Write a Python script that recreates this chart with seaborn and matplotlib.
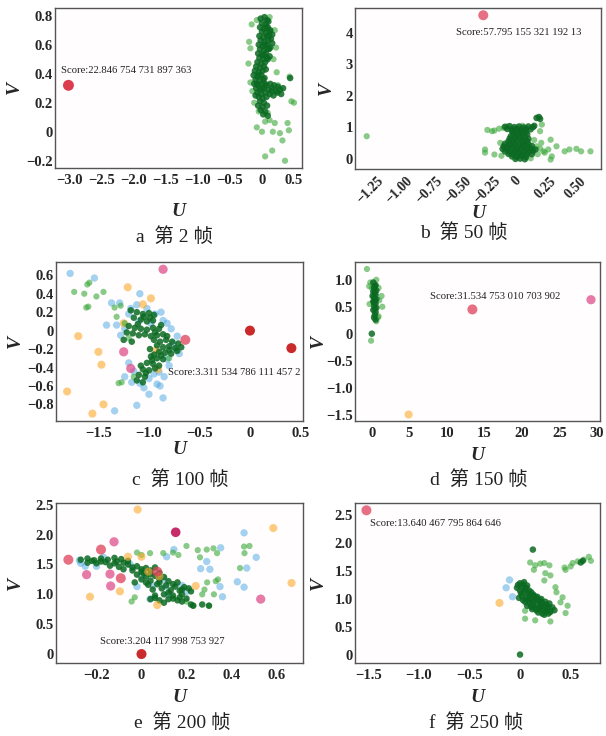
import matplotlib
matplotlib.use("Agg")
import matplotlib.pyplot as plt
import seaborn as sns

# ---------------- data ----------------
# panel a (frame 2)
A_DARK = [(-0.02,0.78),(0.04,0.79),(0.08,0.77),(0.0,0.75),(0.06,0.74),(0.1,0.76),
          (-0.03,0.72),(0.03,0.71),(0.09,0.72),(0.13,0.70),(0.0,0.69),(0.06,0.68),(0.12,0.69),(0.16,0.67),
          (-0.04,0.66),(0.02,0.65),(0.08,0.66),(0.14,0.64),(-0.02,0.63),(0.04,0.62),(0.1,0.63),(0.16,0.61),
          (-0.05,0.60),(0.01,0.59),(0.07,0.60),(0.13,0.58),(-0.03,0.57),(0.03,0.56),(0.09,0.57),
          (-0.06,0.54),(0.0,0.53),(0.06,0.54),(0.12,0.52),(-0.04,0.51),(0.02,0.50),(0.08,0.51),
          (-0.07,0.48),(-0.01,0.47),(0.05,0.48),(-0.09,0.45),(-0.03,0.44),(0.03,0.45),
          (-0.11,0.42),(-0.05,0.41),(0.01,0.42),(-0.13,0.39),(-0.07,0.38),(-0.01,0.39),(0.04,0.37),
          (-0.1,0.36),(-0.04,0.35),(0.02,0.36),(-0.12,0.33),(-0.06,0.32),(0.0,0.33),(0.07,0.32),(0.13,0.33),
          (0.19,0.32),(0.25,0.31),(-0.09,0.30),(-0.03,0.29),(0.03,0.30),(0.1,0.29),(0.16,0.30),(0.22,0.28),
          (0.28,0.29),(0.33,0.30),(-0.07,0.27),(-0.01,0.26),(0.05,0.27),(0.12,0.26),(0.18,0.25),(0.24,0.27),
          (0.3,0.26),(-0.05,0.24),(0.01,0.23),(0.07,0.24),(-0.03,0.21),(0.03,0.20),(-0.06,0.18),(0.01,0.17),
          (0.08,0.18),(-0.02,0.15),(0.05,0.14),(0.02,0.12),(0.09,0.11),(0.44,0.37),
          (0.07,0.72),(0.11,0.66),(0.05,0.60),(0.11,0.57),(0.03,0.53),(0.09,0.50),(-0.05,0.39),(0.06,0.43),
          (-0.08,0.33),(0.05,0.33),(-0.1,0.25),(0.0,0.30),(0.15,0.28)]
A_LIGHT = [(-0.16,0.74),(-0.18,0.575),(-0.21,0.47),(-0.18,0.34),(0.23,0.41),(0.25,0.32),(0.43,0.38),
           (0.46,0.21),(0.40,0.06),(0.42,0.01),(0.28,-0.01),(0.32,-0.06),(0.17,0.0),(0.0,0.0),
           (-0.08,0.03),(0.05,0.07),(0.12,0.08),(0.2,0.06),(0.05,-0.17),(0.16,-0.13),(0.36,-0.2),
           (-0.05,0.14),(0.09,0.13),(0.2,0.70),(0.22,0.58),(-0.15,0.28),(0.12,0.79),(-0.08,0.77),
           (0.5,0.2),(-0.2,0.62),(0.18,0.5),(-0.12,0.2)]
A_RED = [(-3.02,0.32)]

# panel b (frame 50)
B_DARK = [(-0.1,1.02),(-0.06,1.04),(-0.02,1.01),(0.02,1.03),(0.06,1.0),(0.1,1.03),(0.14,1.01),
          (-0.08,0.95),(-0.04,0.94),(0.0,0.96),(0.04,0.93),(0.08,0.95),(0.12,0.94),
          (-0.04,0.88),(0.0,0.87),(0.04,0.89),(0.08,0.86),(-0.03,0.80),(0.01,0.79),(0.05,0.81),(0.09,0.78),
          (-0.05,0.72),(-0.01,0.71),(0.03,0.73),(0.07,0.70),(-0.06,0.64),(-0.02,0.63),(0.02,0.65),(0.06,0.62),(0.1,0.64),
          (-0.07,0.56),(-0.03,0.55),(0.01,0.57),(0.05,0.54),(0.09,0.56),
          (-0.1,0.48),(-0.06,0.47),(-0.02,0.49),(0.02,0.46),(0.06,0.48),(0.1,0.47),
          (-0.11,0.40),(-0.07,0.39),(-0.03,0.41),(0.01,0.38),(0.05,0.40),(0.09,0.39),(0.13,0.41),
          (-0.12,0.32),(-0.08,0.31),(-0.04,0.33),(0.0,0.30),(0.04,0.32),(0.08,0.31),(0.12,0.33),(0.16,0.30),
          (-0.1,0.24),(-0.06,0.23),(-0.02,0.25),(0.02,0.22),(0.06,0.24),(0.1,0.23),(0.14,0.25),
          (-0.07,0.16),(-0.03,0.15),(0.01,0.17),(0.05,0.14),(0.09,0.16),(0.13,0.15),
          (-0.04,0.08),(0.0,0.07),(0.04,0.09),(0.08,0.06),(-0.01,0.0),(0.03,0.01),(0.07,-0.01),
          (0.19,1.33),(0.2,1.27),(0.17,1.30),(0.15,1.05)]
B_LIGHT = [(-1.28,0.72),(-0.21,0.88),(-0.19,0.9),(-0.11,0.98),(-0.08,1.03),(0.215,1.09),(0.2,0.88),
           (0.29,0.61),(0.27,0.3),(0.34,0.4),(0.41,0.24),(0.45,0.3),(0.51,0.32),(0.55,0.24),(0.63,0.24),
           (-0.27,0.3),(-0.27,0.2),(-0.19,0.14),(-0.14,0.51),(0.29,-0.02),(0.3,0.08),(0.23,0.24),
           (0.17,0.4),(0.21,0.51),(-0.25,0.92),(-0.15,0.96),(0.05,1.05),(0.24,0.2),(0.18,0.15),
           (-0.13,0.1),(0.15,0.6),(0.12,0.02),(0.2,0.33)]
B_RED = [(-0.285,4.56)]

# panel c (frame 100)
C_DARK = [(-1.18,0.22),(-1.12,0.20),(-1.06,0.18),(-1.0,0.19),(-0.95,0.17),(-1.15,0.14),(-1.08,0.12),
          (-1.02,0.10),(-0.96,0.11),(-1.2,0.05),(-1.14,0.03),(-1.08,0.02),(-1.02,0.01),(-0.96,0.03),
          (-0.9,0.02),(-1.16,-0.03),(-1.1,-0.05),(-1.04,-0.04),(-0.98,-0.06),(-0.92,-0.05),(-0.86,-0.04),
          (-0.95,-0.1),(-0.89,-0.12),(-0.83,-0.1),(-0.77,-0.12),(-0.71,-0.14),(-0.92,-0.16),(-0.86,-0.18),
          (-0.8,-0.17),(-0.74,-0.19),(-0.68,-0.18),(-0.9,-0.23),(-0.84,-0.24),(-0.78,-0.25),(-0.72,-0.22),
          (-0.98,-0.28),(-0.92,-0.3),(-0.86,-0.31),(-1.02,-0.35),(-0.96,-0.36),(-0.9,-0.38),
          (-1.06,-0.42),(-1.0,-0.43),(-0.94,-0.41),(-1.1,-0.48),(-1.04,-0.5),(-1.12,-0.54),(-1.06,-0.56),
          (-1.22,-0.02),(-1.25,-0.1),(-1.17,-0.12),(-0.88,0.06),(-0.82,-0.06),(-0.99,-0.2),(-0.95,-0.26),
          (-1.05,0.15),(-0.99,0.14),(-1.11,0.07),(-0.94,-0.02),(-0.8,-0.21),(-0.88,-0.27),(-0.97,-0.32),
          (-1.03,-0.46),(-1.08,-0.38)]
C_LIGHT = [(-1.74,0.42),(-1.64,0.40),(-1.61,0.50),(-1.59,0.52),(-1.45,0.42),(-1.52,0.37),(-1.60,0.26),
           (-1.62,0.25),(-1.34,0.25),(-1.28,0.27),(-1.32,0.15),(-1.30,-0.57),(-1.27,-0.56),(-1.24,0.08),
           (-1.2,-0.08),(-1.15,-0.5),(-0.8,-0.3)]
C_BLUE = [(-1.78,0.62),(-1.54,0.57),(-1.37,0.30),(-1.29,0.30),(-1.42,0.06),(-1.34,-0.87),(-1.12,-0.81),
          (-1.0,-0.69),(-0.86,-0.73),(-0.89,-0.60),(-1.09,-0.57),(-1.17,-0.56),(-1.24,-0.50),(-0.86,0.11),
          (-0.94,0.18),(-1.09,0.40),(-1.18,0.24),(-1.24,0.02),(-1.32,0.06),(-0.76,-0.14),(-0.73,-0.21),
          (-0.82,-0.31),(-1.0,-0.52),(-0.95,-0.47),(-0.9,-0.45),(-0.8,-0.38),(-1.15,-0.44),(-0.78,0.02),
          (-0.82,0.08),(-0.72,-0.06),(-0.88,0.2),(-1.02,0.24),(-1.12,0.28),(-1.2,0.18),(-1.28,-0.05),
          (-0.92,-0.58),(-1.05,-0.62),(-0.98,0.08),(-0.7,-0.25),(-0.85,-0.5),(-1.2,-0.35),(-1.1,0.1)]
C_ORANGE = [(-1.21,0.47),(-0.98,0.35),(-1.06,0.285),(-1.70,-0.06),(-1.50,-0.23),(-1.47,-0.37),
            (-1.81,-0.66),(-1.45,-0.80),(-1.56,-0.90),(-1.25,0.08),(-0.91,-0.42),(-0.93,-0.21)]
C_PINK = [(-0.86,0.665),(-1.25,-0.23),(-1.18,-0.41)]
C_SALMON = [(-0.64,-0.10)]
C_RED = [(0.0,0.0),(0.41,-0.19)]

# panel d (frame 150)
D_DARK = [(0.2,0.95),(0.5,0.9),(0.3,0.85),(0.6,0.8),(0.2,0.78),(0.5,0.72),(0.3,0.68),(0.6,0.64),
          (0.2,0.6),(0.5,0.56),(0.3,0.52),(0.6,0.48),(0.2,0.44),(0.5,0.4),(0.4,0.35),(0.3,0.3),
          (0.5,0.26),(0.0,0.0),(0.4,0.62),(0.1,0.7),(0.4,0.88),(0.4,0.76),(0.3,0.58),(0.4,0.46)]
D_LIGHT = [(-0.65,1.2),(-0.35,0.88),(1.3,0.7),(1.4,0.5),(0.8,0.3),(0.6,0.23),(0.6,1.0),(0.0,0.85),
           (-0.1,-0.13),(1.0,0.62),(0.9,0.32),(-0.3,0.55),(0.9,0.85),(-0.2,0.95)]
D_SALMON = [(13.4,0.45)]
D_PINK = [(29.2,0.63)]
D_ORANGE = [(4.9,-1.5)]

# panel e (frame 200)
E_DARK = [(-0.27,1.58),(-0.24,1.60),(-0.21,1.57),(-0.18,1.60),(-0.15,1.58),(-0.12,1.61),(-0.09,1.59),
          (-0.06,1.56),(-0.24,1.53),(-0.2,1.52),(-0.16,1.54),(-0.12,1.52),(-0.14,1.48),(-0.1,1.46),
          (-0.06,1.50),(-0.02,1.47),(0.02,1.44),(-0.08,1.42),(-0.04,1.40),(0.0,1.38),(0.04,1.40),
          (0.08,1.36),(0.06,1.45),(-0.02,1.33),(0.02,1.30),(0.06,1.31),(0.1,1.29),(0.0,1.25),(0.04,1.23),
          (0.08,1.25),(0.12,1.22),(0.16,1.20),(0.03,1.16),(0.07,1.17),(0.11,1.15),(0.15,1.13),(0.19,1.12),
          (0.09,1.10),(0.13,1.07),(0.17,1.06),(0.21,1.10),(0.05,1.08),(0.06,0.98),(0.1,1.0),(0.14,0.98),
          (0.18,1.0),(0.04,0.92),(0.08,0.90),(0.12,0.92),(0.16,0.90),(0.2,0.93),(0.1,0.86),(0.23,0.81),
          (0.3,0.81),(0.27,0.83),(0.22,0.83),(-0.03,1.2),(0.12,1.03),(0.17,0.95),(-0.11,1.55),(0.01,1.35),
          (-0.22,1.56),(-0.18,1.55),(-0.08,1.53),(-0.04,1.45),(0.0,1.42),(0.04,1.34),(0.08,1.20),
          (0.14,1.17),(0.18,1.08),(0.14,0.93),(0.18,0.88),(0.06,0.94),(0.02,1.20),(0.22,1.05)]
E_LIGHT = [(0.038,1.69),(0.097,1.69),(0.164,1.66),(0.2,1.81),(0.25,1.74),(0.29,1.75),(0.32,1.77),
           (0.336,1.69),(0.456,1.80),(0.48,1.81),(0.458,1.69),(0.438,1.44),(0.292,1.20),(0.33,1.22),
           (0.322,1.0),(0.27,1.0),(-0.044,0.88),(0.23,0.81),(0.3,0.81),(-0.02,1.70),(0.0,1.66),
           (0.14,1.7),(0.26,1.62),(-0.03,0.95),(0.2,0.88),(0.28,1.08),(0.34,1.25)]
E_BLUE = [(0.456,2.03),(0.352,1.78),(0.29,1.55),(0.263,1.43),(0.304,1.42),(0.468,1.44),(0.426,1.21),
          (0.456,1.12),(0.36,0.96),(0.144,1.75),(0.112,1.63),(-0.276,1.57),(-0.25,1.47),(-0.2,1.47),
          (-0.02,1.13),(0.038,0.92),(0.105,1.13),(0.349,1.13),(-0.27,1.52),(-0.05,1.50),(0.0,1.30),
          (0.05,1.15),(0.12,1.0),(0.1,1.25),(0.18,1.15),(0.2,1.05),(-0.17,1.62),(0.51,1.62)]
E_ORANGE = [(-0.017,2.42),(0.586,2.11),(0.667,1.19),(-0.229,0.96),(-0.096,1.05),(0.241,1.14),
            (0.07,0.82),(-0.06,1.63),(0.0,1.63),(0.03,1.38),(0.08,1.30)]
E_PINK = [(-0.122,1.88),(-0.244,1.33),(-0.137,1.14),(-0.14,1.34),(0.53,0.92)]
E_SALMON = [(-0.325,1.58),(-0.18,1.75),(-0.092,1.27),(0.07,1.38)]
E_MAGENTA = [(0.152,2.04)]
E_RED = [(0.0,0.0)]

# panel f (frame 250)
F_DARK = [(-0.02,1.25),(0.02,1.22),(0.06,1.20),(0.0,1.15),(0.04,1.12),(0.08,1.10),(0.02,1.05),
          (0.06,1.02),(0.1,1.0),(0.14,0.98),(0.05,0.95),(0.09,0.93),(0.13,0.90),(0.17,0.90),(0.21,0.88),
          (0.11,0.86),(0.15,0.84),(0.19,0.82),(0.23,0.80),(0.27,0.82),(0.18,0.76),(0.22,0.74),(0.26,0.78),
          (0.3,0.77),(0.1,1.08),(0.14,1.05),(0.18,0.97),(0.22,0.93),(0.26,0.90),(0.0,1.28),(0.04,1.30),
          (-0.03,1.20),(0.01,1.10),(0.08,1.0),(0.12,0.95),(0.2,0.86),(0.24,0.85),(0.28,0.86),
          (0.0,0.01),(0.127,1.88),(0.6,1.65),(0.62,1.68),
          (0.03,1.26),(0.07,1.24),(0.11,1.12),(0.16,1.02),(0.2,0.97),(0.25,0.95),(0.29,0.92),(0.32,0.85),
          (0.28,0.74),(0.24,0.72),(0.16,0.80),(0.12,0.82),(0.07,0.88),(-0.01,1.02),(0.03,0.98),(0.34,0.80),
          (0.05,1.17),(0.09,1.15),(0.13,1.08),(0.17,1.04),(0.21,1.0)]
F_LIGHT = [(0.45,1.52),(0.52,1.64),(0.57,1.67),(0.63,1.70),(0.68,1.75),(0.70,1.68),(0.44,1.56),
           (0.137,1.52),(0.24,1.64),(0.29,1.60),(0.25,1.46),(0.30,1.42),(0.24,1.33),(0.35,1.21),
           (0.36,1.12),(0.42,1.03),(0.47,0.88),(0.40,0.94),(0.30,0.79),(0.05,0.79),(0.1,1.65),
           (0.15,1.6),(0.2,1.63),(0.15,0.62),(0.3,0.6),(0.45,0.75),(0.05,0.65),(0.5,1.58)]
F_BLUE = [(-0.104,1.34),(-0.137,1.20),(-0.074,1.04)]
F_ORANGE = [(-0.203,0.93)]
F_SALMON = [(-1.517,2.58)]

SCORES = ["Score:22.846 754 731 897 363", "Score:57.795 155 321 192 13",
          "Score:3.311 534 786 111 457 2", "Score:31.534 753 010 703 902",
          "Score:3.204 117 998 753 927", "Score:13.640 467 795 864 646"]
CAPTIONS = ["a  第 2 帧", "b  第 50 帧", "c  第 100 帧", "d  第 150 帧", "e  第 200 帧", "f  第 250 帧"]

A_XT = [-3.0, -2.5, -2.0, -1.5, -1.0, -0.5, 0, 0.5]
A_XL = ["−3.0", "−2.5", "−2.0", "−1.5", "−1.0", "−0.5", "0", "0.5"]
A_YT = [-0.2, 0, 0.2, 0.4, 0.6, 0.8]
A_YL = ["−0.2", "0", "0.2", "0.4", "0.6", "0.8"]
B_XT = [-1.25, -1.0, -0.75, -0.5, -0.25, 0, 0.25, 0.5]
B_XL = ["−1.25", "−1.00", "−0.75", "−0.50", "−0.25", "0", "0.25", "0.50"]
B_YT = [0, 1, 2, 3, 4]
B_YL = ["0", "1", "2", "3", "4"]
C_XT = [-1.5, -1.0, -0.5, 0, 0.5]
C_XL = ["−1.5", "−1.0", "−0.5", "0", "0.5"]
C_YT = [-0.8, -0.6, -0.4, -0.2, 0, 0.2, 0.4, 0.6]
C_YL = ["−0.8", "−0.6", "−0.4", "−0.2", "0", "0.2", "0.4", "0.6"]
D_XT = [0, 5, 10, 15, 20, 25, 30]
D_XL = ["0", "5", "10", "15", "20", "25", "30"]
D_YT = [-1.5, -1.0, -0.5, 0, 0.5, 1.0]
D_YL = ["−1.5", "−1.0", "−0.5", "0", "0.5", "1.0"]
E_XT = [-0.2, 0, 0.2, 0.4, 0.6]
E_XL = ["−0.2", "0", "0.2", "0.4", "0.6"]
E_YT = [0, 0.5, 1.0, 1.5, 2.0, 2.5]
E_YL = ["0", "0.5", "1.0", "1.5", "2.0", "2.5"]
F_XT = [-1.5, -1.0, -0.5, 0, 0.5]
F_XL = ["−1.5", "−1.0", "−0.5", "0", "0.5"]
F_YT = [0, 0.5, 1.0, 1.5, 2.0, 2.5]
F_YL = ["0", "0.5", "1.0", "1.5", "2.0", "2.5"]

# ---------------- style ----------------
sns.set_theme(style="white")
plt.rcParams['font.family'] = ['Liberation Serif', 'Noto Sans CJK SC', 'DejaVu Sans']
plt.rcParams['axes.edgecolor'] = '#555555'
plt.rcParams['axes.linewidth'] = 1.0

STY = {
    'dark':    dict(color='#0b6a22', alpha=0.85, s=22),
    'light':   dict(color='#3aa83a', alpha=0.6, s=20),
    'blue':    dict(color='#4aa6e2', alpha=0.5, s=28),
    'orange':  dict(color='#fdab2c', alpha=0.6, s=34),
    'pink':    dict(color='#de4f8c', alpha=0.75, s=44),
    'salmon':  dict(color='#e0405a', alpha=0.75, s=52),
    'red':     dict(color='#c81e1e', alpha=0.95, s=52),
    'magenta': dict(color='#c0145a', alpha=0.9, s=48),
    'redA':    dict(color='#d8283c', alpha=0.9, s=62),
}

fig = plt.figure(figsize=(6.06, 7.36), dpi=100)
fig.patch.set_facecolor('white')

W, H = 606.0, 736.0
def axes_px(l, r, t, b):
    return fig.add_axes([l / W, 1 - b / H, (r - l) / W, (b - t) / H])

# label positions in pixels: (U label centre y, V label centre x)
panels = [
    dict(box=(55, 302, 8, 168), groups=[('light', A_LIGHT), ('dark', A_DARK), ('redA', A_RED)],
         xlim=(-3.23, 0.625), ylim=(-0.25, 0.853), xt=A_XT, xl=A_XL, yt=A_YT, yl=A_YL,
         score=(-3.13, 0.42), upx=212, vpx=14, cap=(175, 237), rot=0),
    dict(box=(355, 601, 8, 169), groups=[('light', B_LIGHT), ('dark', B_DARK), ('salmon', B_RED)],
         xlim=(-1.38, 0.72), ylim=(-0.32, 4.79), xt=B_XT, xl=B_XL, yt=B_YT, yl=B_YL,
         score=(-0.52, 4.0), upx=213, vpx=326, cap=(464, 233), rot=45),
    dict(box=(56, 303, 262, 421), groups=[('blue', C_BLUE), ('orange', C_ORANGE), ('light', C_LIGHT),
                                            ('dark', C_DARK), ('pink', C_PINK), ('salmon', C_SALMON),
                                            ('red', C_RED)],
         xlim=(-1.92, 0.525), ylim=(-0.98, 0.744), xt=C_XT, xl=C_XL, yt=C_YT, yl=C_YL,
         score=(-0.81, -0.45), upx=450, vpx=15, cap=(180, 480), rot=0),
    dict(box=(355, 600, 262, 421), groups=[('light', D_LIGHT), ('dark', D_DARK), ('salmon', D_SALMON),
                                             ('pink', D_PINK), ('orange', D_ORANGE)],
         xlim=(-2.24, 30.4), ylim=(-1.62, 1.33), xt=D_XT, xl=D_XL, yt=D_YT, yl=D_YL,
         score=(7.8, 0.69), upx=455, vpx=318, cap=(479, 480), rot=0),
    dict(box=(56, 303, 503, 663), groups=[('blue', E_BLUE), ('light', E_LIGHT), ('dark', E_DARK),
                                            ('orange', E_ORANGE), ('pink', E_PINK), ('salmon', E_SALMON),
                                            ('magenta', E_MAGENTA), ('red', E_RED)],
         xlim=(-0.38, 0.718), ylim=(-0.15, 2.53), xt=E_XT, xl=E_XL, yt=E_YT, yl=E_YL,
         score=(-0.184, 0.21), upx=697, vpx=15, cap=(182, 723), rot=0),
    dict(box=(355, 600, 503, 663), groups=[('light', F_LIGHT), ('dark', F_DARK), ('blue', F_BLUE),
                                             ('orange', F_ORANGE), ('salmon', F_SALMON)],
         xlim=(-1.63, 0.79), ylim=(-0.14, 2.71), xt=F_XT, xl=F_XL, yt=F_YT, yl=F_YL,
         score=(-1.48, 2.35), upx=698, vpx=318, cap=(476, 723), rot=0),
]

for i, p in enumerate(panels):
    ax = axes_px(*p['box'])
    l, r, t, b = p['box']
    ax.set_facecolor('#fffdfd')
    for key, pts in p['groups']:
        u = [q[0] for q in pts]
        v = [q[1] for q in pts]
        st = STY[key]
        sns.scatterplot(x=u, y=v, ax=ax, color=st['color'], alpha=st['alpha'], s=st['s'],
                        linewidth=0, edgecolor='none', legend=False)
    ax.set_xlim(*p['xlim'])
    ax.set_ylim(*p['ylim'])
    ax.set_xticks(p['xt'])
    ax.set_yticks(p['yt'])
    if p['rot']:
        ax.set_xticklabels(p['xl'], rotation=45, ha='center', fontsize=10, fontweight='bold')
    else:
        ax.set_xticklabels(p['xl'], fontsize=10.5, fontweight='bold')
    ax.set_yticklabels(p['yl'], fontsize=10.5, fontweight='bold')
    ax.tick_params(axis='x', length=0, pad=4)
    ax.tick_params(axis='y', length=0, pad=1.5)
    for sp in ax.spines.values():
        sp.set_visible(True)
        sp.set_color('#555555')
        sp.set_linewidth(1.0)
    ax.set_xlabel('U', fontsize=14, fontstyle='italic', fontweight='bold', va='center')
    ax.set_ylabel('V', fontsize=14, fontstyle='italic', fontweight='bold', va='center')
    ax.xaxis.set_label_coords(0.5, (b - p['upx']) / (b - t))
    ax.yaxis.set_label_coords((p['vpx'] - l) / (r - l), 0.5)
    ax.text(p['score'][0], p['score'][1], SCORES[i], fontsize=7.7, ha='left', va='center',
            color='#222222', clip_on=True)
    cx, cy = p['cap']
    fig.text(cx / W, 1 - cy / H, CAPTIONS[i], fontsize=14, ha='center', va='center', color='#222222')

fig.savefig('out.png', dpi=100, facecolor='white')
